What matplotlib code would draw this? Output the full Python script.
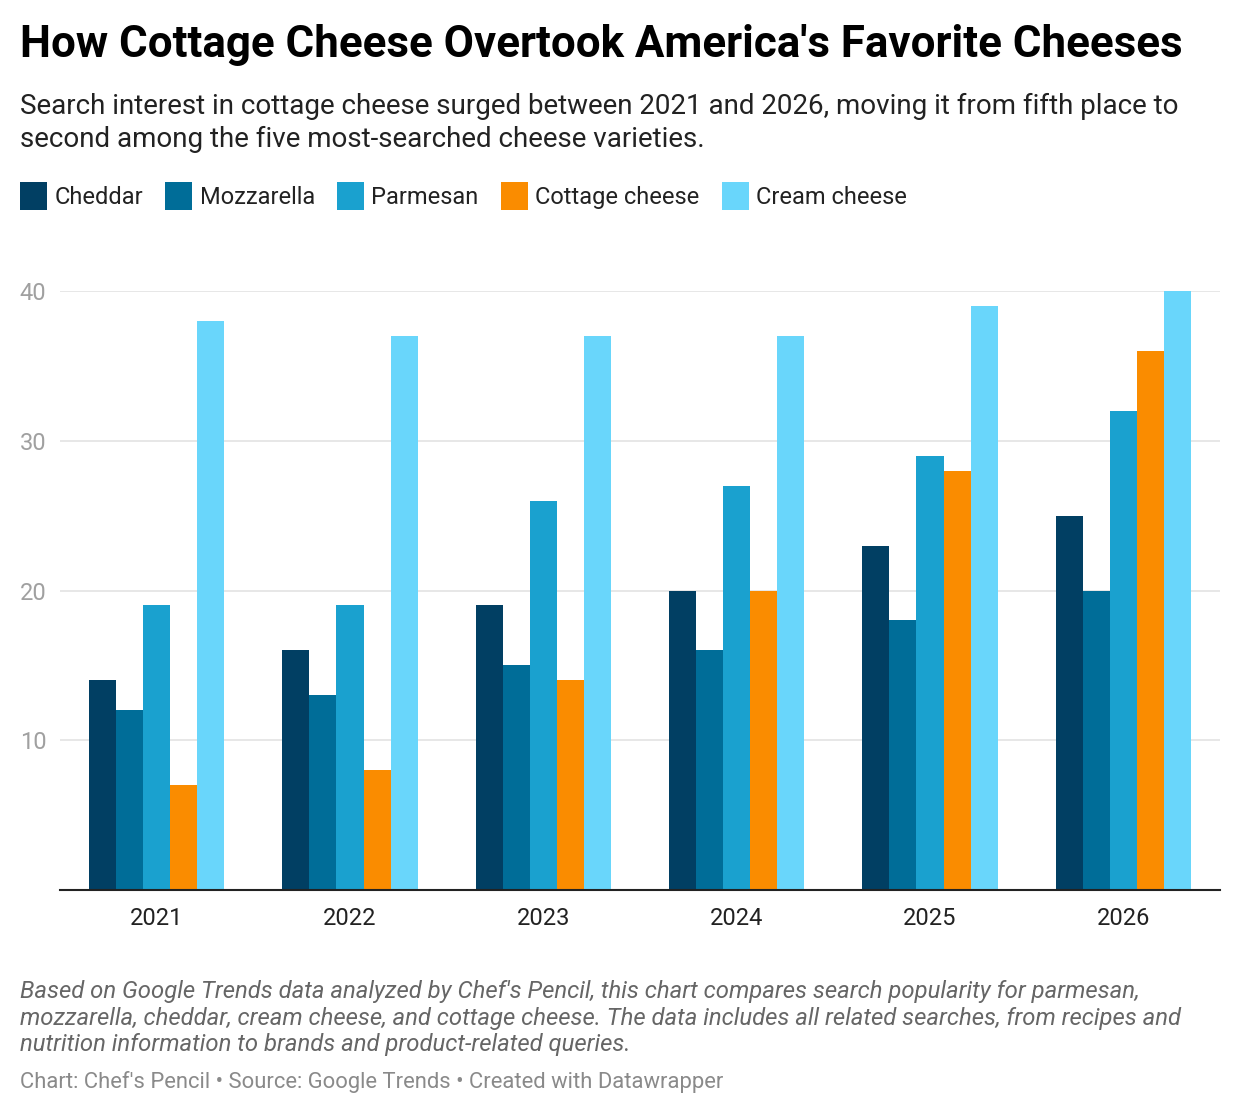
import numpy as np
import matplotlib.pyplot as plt
from matplotlib.patches import Patch

plt.rcParams['font.family'] = ['Roboto', 'DejaVu Sans']

years = ["2021", "2022", "2023", "2024", "2025", "2026"]
cheddar = [14, 16, 19, 20, 23, 25]
mozzarella = [12, 13, 15, 16, 18, 20]
parmesan = [19, 19, 26, 27, 29, 32]
cottage = [7, 8, 14, 20, 28, 36]
cream = [38, 37, 37, 37, 39, 40]

series = [("Cheddar", cheddar, "#013f63"),
          ("Mozzarella", mozzarella, "#006d98"),
          ("Parmesan", parmesan, "#1aa1cf"),
          ("Cottage cheese", cottage, "#fa8c00"),
          ("Cream cheese", cream, "#69d6fb")]

fig = plt.figure(figsize=(12.4, 11.16), dpi=100)
ax = fig.add_axes([60/1240, 1-890/1116, 1160/1240, 599/1116])

x = np.arange(len(years))
w = 0.14
for i, (name, vals, col) in enumerate(series):
    ax.bar(x + (i - 2) * w, vals, width=w, color=col, zorder=2)

ax.set_xlim(-0.5, len(years) - 0.5)
ax.set_ylim(0, 40)
ax.set_yticks([10, 20, 30, 40])
ax.grid(axis='y', color='#e3e3e3', linewidth=1.2, zorder=0)
ax.set_xticks(x)
ax.set_xticklabels(years)
ax.tick_params(axis='x', length=0, pad=12, labelsize=17, labelcolor='#222222')
ax.tick_params(axis='y', length=0, pad=29, labelsize=17, labelcolor='#a0a0a0')
for s in ['top', 'right', 'left']:
    ax.spines[s].set_visible(False)
ax.spines['bottom'].set_color('#222222')
ax.spines['bottom'].set_linewidth(1.5)
for lab in ax.get_yticklabels():
    lab.set_horizontalalignment('left')

fig.text(20/1240, 1-45/1116, "How Cottage Cheese Overtook America's Favorite Cheeses",
         fontsize=31.6, fontweight='bold', va='center', ha='left', color='#000000')
fig.text(20/1240, 1-123/1116,
         "Search interest in cottage cheese surged between 2021 and 2026, moving it from fifth place to\n"
         "second among the five most-searched cheese varieties.",
         fontsize=20, va='center', ha='left', color='#222222', linespacing=1.32)

handles = [Patch(facecolor=c, edgecolor='none') for _, _, c in series]
fig.legend(handles, [n for n, _, _ in series], loc='center left',
           bbox_to_anchor=(20/1240, 1-196/1116), ncol=5, frameon=False,
           fontsize=17, handlelength=1.15, handleheight=1.4, handletextpad=0.3,
           columnspacing=0.95, borderpad=0, borderaxespad=0, labelcolor='#222222')

fig.text(20/1240, 1-1018/1116,
         "Based on Google Trends data analyzed by Chef's Pencil, this chart compares search popularity for parmesan,\n"
         "mozzarella, cheddar, cream cheese, and cottage cheese. The data includes all related searches, from recipes and\n"
         "nutrition information to brands and product-related queries.",
         fontsize=17.2, style='italic', va='center', ha='left', color='#666666', linespacing=1.2)
fig.text(20/1240, 1-1082/1116,
         "Chart: Chef's Pencil \u2022 Source: Google Trends \u2022 Created with Datawrapper",
         fontsize=15.8, va='center', ha='left', color='#8a8a8a')

fig.savefig("out.png", dpi=100, facecolor='white')
